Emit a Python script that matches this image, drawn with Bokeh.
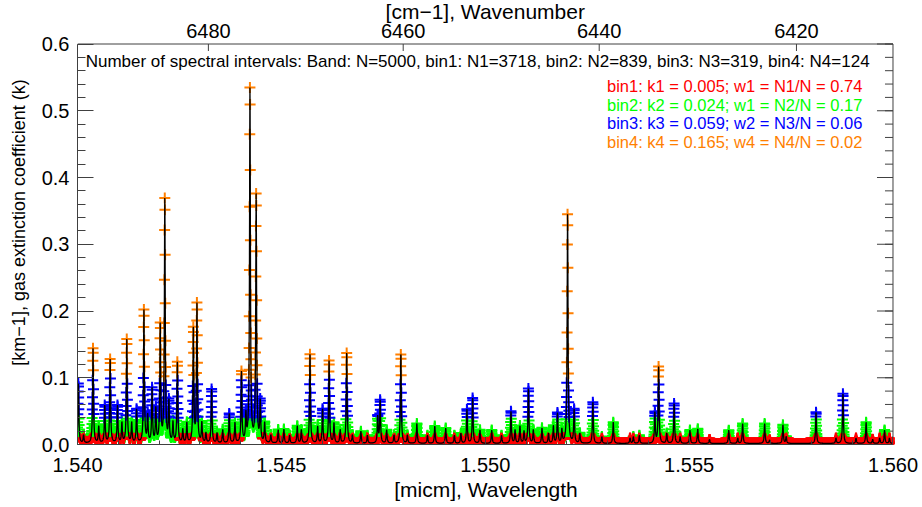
import numpy as np
from bokeh.plotting import figure
from bokeh.models import (ColumnDataSource, LinearAxis, Range1d, SingleIntervalTicker,
                          FixedTicker, NumeralTickFormatter, Label)
from bokeh.core.properties import value
from bokeh.embed import file_html
from bokeh.resources import INLINE

# ---- absorption line list: centre wavelength [micm] and peak extinction [km-1] ----
line_wl = [1.54002, 1.54015, 1.54038, 1.54052, 1.54067, 1.54080, 1.54098, 1.54109,
           1.54121, 1.54133, 1.54145, 1.54163, 1.54172, 1.54183, 1.54192, 1.54203,
           1.54214, 1.54224, 1.54234, 1.54245, 1.54258, 1.54268, 1.54284, 1.54293,
           1.54305, 1.54315, 1.54329, 1.54342, 1.54356, 1.54372, 1.54386, 1.54402,
           1.54413, 1.54423, 1.54438, 1.54448, 1.54459, 1.54474, 1.54492, 1.54506,
           1.54520, 1.54539, 1.54549, 1.54570, 1.54589, 1.54601, 1.54617, 1.54629,
           1.54644, 1.54660, 1.54674, 1.54695, 1.54711, 1.54736, 1.54742, 1.54758,
           1.54776, 1.54793, 1.54809, 1.54832, 1.54858, 1.54876, 1.54903, 1.54924,
           1.54940, 1.54955, 1.54969, 1.54987, 1.55016, 1.55040, 1.55063, 1.55073,
           1.55085, 1.55095, 1.55106, 1.55118, 1.55139, 1.55155, 1.55167, 1.55177,
           1.55188, 1.55202, 1.55218, 1.55232, 1.55264, 1.55286, 1.55314, 1.55355,
           1.55363, 1.55378, 1.55416, 1.55425, 1.55445, 1.55463, 1.55478, 1.55502,
           1.55521, 1.55550, 1.55597, 1.55619, 1.55631, 1.55685, 1.55697, 1.55730,
           1.55738, 1.55811, 1.55860, 1.55877, 1.55909, 1.55934, 1.55950, 1.55967,
           1.55979, 1.55991]
line_k = [0.090, 0.012, 0.143, 0.025, 0.056, 0.126, 0.056, 0.030,
          0.156, 0.030, 0.050, 0.200, 0.040, 0.081, 0.050, 0.176,
          0.366, 0.060, 0.030, 0.121, 0.020, 0.030, 0.171, 0.208,
          0.030, 0.015, 0.081, 0.015, 0.020, 0.044, 0.030, 0.106,
          0.040, 0.533, 0.372, 0.060, 0.030, 0.012, 0.020, 0.021,
          0.012, 0.026, 0.020, 0.134, 0.025, 0.051, 0.124, 0.030,
          0.020, 0.136, 0.012, 0.018, 0.012, 0.040, 0.064, 0.020,
          0.012, 0.134, 0.012, 0.030, 0.012, 0.026, 0.023, 0.012,
          0.015, 0.051, 0.068, 0.020, 0.020, 0.012, 0.048, 0.020,
          0.026, 0.018, 0.082, 0.020, 0.023, 0.015, 0.026, 0.045,
          0.020, 0.345, 0.050, 0.015, 0.062, 0.010, 0.032, 0.008,
          0.010, 0.012, 0.046, 0.115, 0.015, 0.060, 0.010, 0.020,
          0.022, 0.006, 0.020, 0.008, 0.030, 0.030, 0.005, 0.028,
          0.010, 0.047, 0.008, 0.075, 0.008, 0.032, 0.006, 0.008,
          0.020, 0.008]
continuum_k = 0.0015

# ---- band / bin summary ----
n_band = 5000
bin_names = ["bin1", "bin2", "bin3", "bin4"]
bin_counts = [3718, 839, 319, 124]
bin_k = [0.005, 0.024, 0.059, 0.165]
bin_w = [0.74, 0.17, 0.06, 0.02]
bin_wname = ["w1", "w1", "w2", "w4"]
bin_edges = [0.0, 0.01, 0.04, 0.10, 10.0]
bin_colors = ["#ff0000", "#00ff00", "#0000ff", "#ff7f00"]

# ---- axes ----
wl_min, wl_max = 1.540, 1.560
k_min, k_max = 0.0, 0.6
k_major = [0.0, 0.1, 0.2, 0.3, 0.4, 0.5, 0.6]
k_minor = [round(0.02 * i, 2) for i in range(31)]
top_wavenumbers = [6480, 6460, 6440, 6420]

# spectral grid and line-by-line extinction (Lorentz profiles)
wl = np.linspace(wl_min, wl_max, n_band)
dwl = wl[1] - wl[0]
half_width = 1.25e-5
kext = np.full(n_band, continuum_k)
for c, a in zip(line_wl, line_k):
    c0 = wl_min + np.round((c - wl_min) / dwl) * dwl + 0.25 * dwl
    kext += a * half_width ** 2 / ((wl - c0) ** 2 + half_width ** 2)

FONT = "Liberation Sans"
AX = "#404040"

# pixel scales of the plotting box (815 x 400.5 px)
px_wl = (wl_max - wl_min) / 815.0
px_k = (k_max - k_min) / 400.5
# the frame reaches the top of the canvas so the wavenumber scale can be drawn inside it
view_top = k_max + 43.5 * px_k
view_right = wl_max + 1.5 * px_wl

p = figure(width=922, height=507, x_range=Range1d(wl_min, view_right),
           y_range=Range1d(k_min, view_top), output_backend="svg",
           toolbar_location=None, x_axis_location=None, y_axis_location=None,
           min_border_left=77, min_border_right=28, min_border_top=0,
           min_border_bottom=63)
p.xgrid.visible = False
p.ygrid.visible = False
p.outline_line_color = None
p.background_fill_color = "white"
p.border_fill_color = "white"

def style(ax, tick_in, minor_in, size):
    ax.axis_line_color = AX
    ax.major_tick_line_color = AX
    ax.minor_tick_line_color = AX
    ax.major_tick_in = tick_in
    ax.major_tick_out = 0
    ax.minor_tick_in = minor_in
    ax.minor_tick_out = 0
    ax.major_label_text_font = FONT
    ax.major_label_text_font_size = size
    ax.major_label_text_color = "black"
    ax.axis_label_text_font = FONT
    ax.axis_label_text_font_style = "normal"
    ax.axis_label_text_color = "black"

xb = LinearAxis(ticker=SingleIntervalTicker(interval=0.005, num_minor_ticks=5),
                formatter=NumeralTickFormatter(format="0.000"),
                axis_label="[micm], Wavelength", bounds=(wl_min, wl_max))
style(xb, 8, 4, "20px")
xb.axis_label_text_font_size = "21px"
xb.major_label_standoff = 13
xb.axis_label_standoff = 3
p.add_layout(xb, "below")

yl = LinearAxis(ticker=FixedTicker(ticks=k_major, minor_ticks=k_minor),
                formatter=NumeralTickFormatter(format="0.0"),
                axis_label="[km\u22121], gas extinction coefficient (k)",
                bounds=(k_min, k_max))
style(yl, 16, 8, "20px")
yl.axis_label_text_font_size = "18px"
yl.major_label_standoff = 8
yl.axis_label_standoff = 10
p.add_layout(yl, "left")

# top and right edges of the box with their inward ticks
top_ticks = [1e4 / w for w in top_wavenumbers]
p.segment(x0=[wl_min, wl_max], y0=[k_max, k_min], x1=[wl_max, wl_max], y1=[k_max, k_max],
          line_color=AX, line_width=1)
p.segment(x0=top_ticks, y0=[k_max] * 4, x1=top_ticks, y1=[k_max - 7 * px_k] * 4,
          line_color=AX, line_width=1)
p.segment(x0=[wl_max - 16 * px_wl] * len(k_major), y0=k_major, x1=[wl_max] * len(k_major),
          y1=k_major, line_color=AX, line_width=1)
p.segment(x0=[wl_max - 8 * px_wl] * len(k_minor), y0=k_minor, x1=[wl_max] * len(k_minor),
          y1=k_minor, line_color=AX, line_width=1)

# wavenumber scale labels and title
p.text(x=top_ticks, y=[k_max + 13.5 * px_k] * 4, text=[str(w) for w in top_wavenumbers],
       text_font=value(FONT), text_font_size=value("20px"), text_color="black",
       text_align="center", text_baseline="middle")
p.text(x=[0.5 * (wl_min + wl_max)], y=[k_max + 33 * px_k], text=["[cm\u22121], Wavenumber"],
       text_font=value(FONT), text_font_size=value("21px"), text_color="black",
       text_align="center", text_baseline="middle")

# crosses per k-bin (lowest bin drawn last), then the spectrum on top
for i in [1, 2, 3, 0]:
    m = (kext >= bin_edges[i]) & (kext < bin_edges[i + 1])
    src = ColumnDataSource(dict(x=wl[m], y=kext[m]))
    p.scatter("x", "y", source=src, marker="cross", size=11,
              line_color=bin_colors[i], line_width=2)

p.line(wl, kext, line_color="black", line_width=1.3)

head = ("Number of spectral intervals: Band: N=%d, " % n_band +
        ", ".join("%s: N%d=%d" % (bin_names[i], i + 1, bin_counts[i]) for i in range(4)))
p.add_layout(Label(x=1.5402, y=0.5742, text=head, text_font=FONT,
                   text_font_size="17px", text_color="black",
                   text_baseline="middle", text_align="left"))

leg_y = [0.5375, 0.5091, 0.4810, 0.4529]
for i in range(4):
    t = "%s: k%d = %.3f; %s = N%d/N = %.2f" % (bin_names[i], i + 1, bin_k[i],
                                               bin_wname[i], i + 1, bin_w[i])
    p.add_layout(Label(x=1.55925, y=leg_y[i], text=t, text_font=FONT,
                       text_font_size="16.5px", text_color=bin_colors[i],
                       text_baseline="middle", text_align="right"))

open("out.html", "w").write(file_html(p, INLINE))
